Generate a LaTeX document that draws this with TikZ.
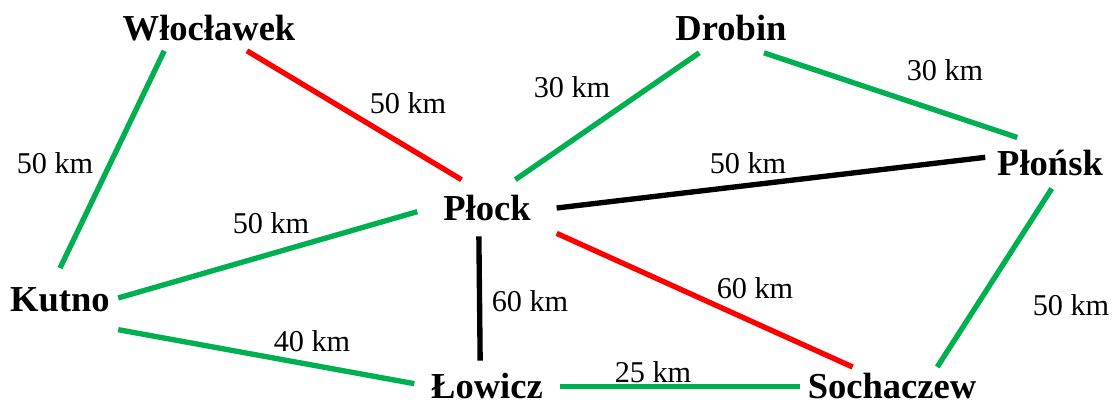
\documentclass[tikz,border=0pt]{standalone}
\usepackage{fontspec}
\setmainfont{Liberation Serif}
\definecolor{zielony}{RGB}{0,176,80}
\definecolor{czerwony}{RGB}{255,0,0}
\begin{document}
\begin{tikzpicture}[
        miasto/.style={font=\bfseries\fontsize{26}{30}\selectfont, outer sep=0pt},
        km/.style={font=\fontsize{21.5}{25}\selectfont, inner sep=0pt},
        droga/.style={line width=3.8pt}
    ]
    \useasboundingbox (0,0) rectangle (28,10.125);
    \begin{scope}[every node/.style=miasto]

        \node[inner ysep=7pt] (wloc) at (5.225,9.425) {Włocławek};
        \node[inner ysep=8.5pt] (drobin) at (18.275,9.425) {Drobin};
        \node[inner xsep=8.5pt, inner ysep=9pt] (plonsk) at (26.25,6.05) {Płońsk};
        \node[inner xsep=18.5pt, inner ysep=11pt] (plock) at (12.175,4.925) {Płock};
        \node[inner xsep=6pt, inner ysep=14pt] (kutno) at (1.5,2.625) {Kutno};
        \node[inner xsep=12pt, inner ysep=9pt] (lowicz) at (12.175,0.47) {Łowicz};
        \node[inner xsep=5.5pt, inner ysep=4.5pt] (sochaczew) at (22.3,0.47) {Sochaczew};

        \path (wloc.-31) edge[droga, czerwony] (plock.132);
        \path (wloc.207) edge[droga, zielony] (kutno.90);
        \path (drobin.218) edge[droga, zielony] (plock.45);
        \path (drobin.-37) edge[droga, zielony] (plonsk.142);
        \path (plock.0) edge[droga, black] (plonsk.175);
        \path (plock.183) edge[droga, zielony] (kutno.2);
        \path (plock.-106) edge[droga, black] (lowicz.105);
        \path (plock.-20) edge[droga, czerwony] (sochaczew.154);
        \path (plonsk.-86) edge[droga, zielony] (sochaczew.23);
        \path (kutno.-27) edge[droga, zielony] (lowicz.178);
        \path (lowicz.0) edge[droga, zielony] (sochaczew.180);
    \end{scope}

    \node[km] (wp) at (10.2,7.55) {50 km};
    \node[km] (wk) at (1.375,6.05) {50 km};
    \node[km] (dp) at (14.3,7.95) {30 km};
    \node[km] (dpl) at (23.625,8.375) {30 km};
    \node[km] (ppl) at (18.7,6.05) {50 km};
    \node[km] (pk) at (6.775,4.55) {50 km};
    \node[km] (pl) at (13.25,2.6) {60 km};
    \node[km] (ps) at (18.875,2.925) {60 km};
    \node[km] (kl) at (7.8,1.6) {40 km};
    \node[km] (ls) at (16.325,0.825) {25 km};
    \node[km] (pls) at (26.775,2.5) {50 km};
\end{tikzpicture}
\end{document}
